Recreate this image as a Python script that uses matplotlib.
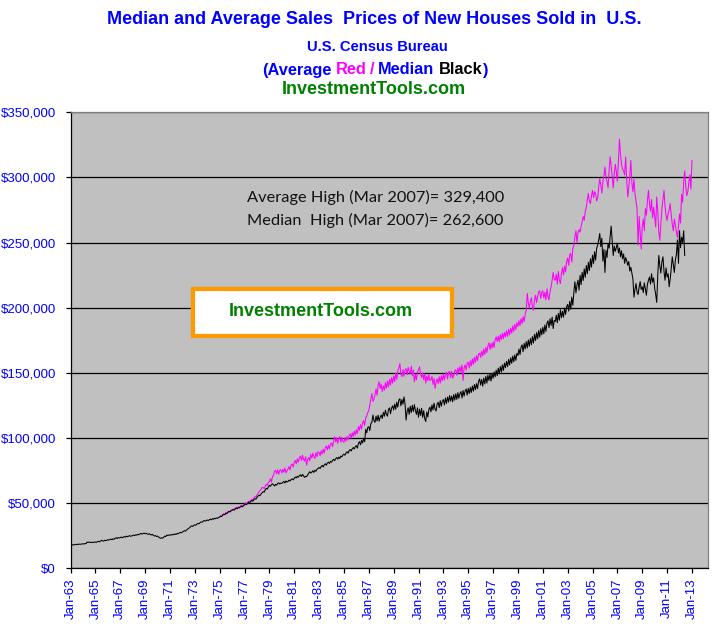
import matplotlib
matplotlib.use('Agg')
import matplotlib.pyplot as plt
from matplotlib.patches import Rectangle
from matplotlib.ticker import FuncFormatter, FixedLocator

# Median sales price, thousands of $, monthly, plotted from the Jan-63 slot
median_k = [
    17.3, 17.7, 17.9, 17.6, 18.0, 18.2, 17.9, 18.3, 18.1, 18.4, 18.2, 18.5,
    18.6, 18.4, 18.8, 18.7, 19.9, 19.6, 20.0, 19.7, 19.5, 19.9, 19.6, 19.8,
    20.0, 19.7, 20.2, 20.5, 20.1, 20.7, 21.3, 20.8, 20.6, 21.4, 21.0, 21.2,
    21.8, 21.4, 21.9, 22.3, 21.7, 22.5, 22.0, 22.8, 23.2, 22.6, 23.4, 23.0,
    23.3, 23.8, 23.2, 23.6, 24.2, 23.7, 24.5, 24.0, 24.4, 24.9, 24.3, 24.7,
    24.8, 25.3, 24.9, 25.6, 25.2, 25.9, 25.5, 26.2, 26.6, 26.0, 26.4, 26.8,
    26.3, 26.7, 26.1, 25.8, 26.4, 25.7, 25.3, 25.9, 25.0, 24.6, 24.9, 24.2,
    24.5, 23.8, 23.2, 22.7, 23.3, 22.9, 23.7, 24.5, 24.1, 25.3, 24.9, 25.4,
    25.1, 25.7, 25.3, 25.9, 25.5, 26.3, 25.8, 26.6, 26.2, 26.9, 27.4, 27.0,
    27.6, 28.1, 28.7, 28.3, 29.2, 29.8, 30.3, 31.0, 31.8, 32.4, 31.9, 32.7,
    33.2, 32.8, 33.7, 34.3, 33.9, 34.8, 35.4, 35.1, 35.9, 36.5, 36.0, 36.3,
    36.9, 36.4, 37.1, 37.5, 37.0, 37.9, 37.4, 38.2, 37.8, 38.5, 38.1, 38.8,
    39.1, 39.9, 39.5, 40.6, 41.3, 40.9, 42.1, 41.7, 42.8, 43.4, 43.0, 43.9,
    44.3, 44.9, 44.4, 45.3, 46.0, 45.5, 46.4, 46.1, 46.9, 47.5, 47.0, 47.8,
    48.4, 49.2, 48.7, 49.7, 50.5, 50.0, 51.1, 51.8, 51.3, 52.5, 53.2, 52.9,
    54.1, 55.3, 56.0, 55.5, 56.9, 57.8, 58.7, 58.2, 60.0, 61.1, 60.6, 62.2,
    63.5, 62.8, 64.0, 64.7, 63.9, 63.0, 64.3, 63.6, 64.9, 65.4, 64.5, 65.2,
    65.0, 65.8, 66.5, 65.3, 66.9, 66.0, 66.4, 67.5, 66.8, 68.0, 68.5, 67.7,
    68.8, 69.9, 69.2, 70.5, 69.7, 71.0, 71.6, 70.3, 71.9, 70.7, 69.6, 70.4,
    70.2, 71.5, 72.8, 74.0, 72.9, 73.6, 74.7, 73.4, 75.1, 74.3, 75.8, 76.5,
    77.2, 76.4, 77.9, 78.8, 77.6, 79.2, 80.1, 78.9, 80.6, 81.3, 80.2, 81.9,
    81.2, 82.6, 83.5, 82.4, 83.9, 84.8, 83.7, 85.2, 84.1, 86.0, 85.3, 86.8,
    87.5, 86.6, 88.4, 89.3, 88.1, 90.2, 91.0, 89.8, 91.6, 92.5, 91.4, 93.3,
    94.0, 92.1, 95.8, 97.0, 94.6, 98.0, 96.0, 99.2, 97.0, 106.5, 103.8, 107.9,
    108.5, 105.6, 111.0, 112.0, 117.5, 113.2, 111.8, 116.6, 112.9, 117.4, 112.8, 116.0,
    117.5, 114.8, 119.6, 116.5, 121.2, 118.0, 116.6, 121.8, 123.0, 118.5, 122.9, 124.6,
    121.4, 125.9, 122.0, 127.4, 123.6, 129.0, 130.0, 124.6, 129.4, 125.8, 131.4, 126.2,
    113.6, 120.2, 123.0, 118.0, 124.2, 119.4, 125.0, 120.2, 125.5, 121.0, 118.0, 123.0,
    115.8, 122.0, 117.2, 122.6, 115.7, 120.8, 114.6, 112.5, 119.8, 116.0, 121.8, 123.6,
    120.0, 125.3, 121.4, 126.6, 122.0, 120.6, 126.0, 127.3, 123.2, 128.5, 124.2, 128.0,
    129.4, 125.2, 130.6, 126.4, 131.3, 127.4, 132.5, 128.2, 132.0, 127.6, 133.2, 129.0,
    133.8, 129.5, 134.7, 130.4, 134.0, 135.5, 130.6, 136.3, 132.0, 135.9, 137.5, 132.8,
    137.9, 134.0, 138.7, 134.8, 139.8, 135.8, 140.9, 137.0, 141.6, 137.8, 143.4, 145.3,
    140.5, 144.8, 139.6, 145.9, 141.4, 147.2, 142.0, 148.1, 144.0, 148.8, 143.6, 149.5,
    145.7, 150.6, 146.8, 151.9, 147.7, 153.5, 149.1, 154.8, 150.5, 156.0, 151.7, 157.4,
    153.9, 158.7, 154.7, 160.2, 156.0, 161.5, 157.3, 162.8, 158.4, 163.7, 159.5, 164.9,
    163.2, 168.2, 163.9, 169.6, 171.4, 166.1, 172.5, 168.2, 173.9, 169.0, 175.1, 170.3,
    176.3, 171.5, 177.7, 172.8, 179.5, 174.7, 180.8, 176.0, 182.3, 177.3, 183.8, 179.1,
    184.9, 179.9, 186.7, 181.7, 188.1, 189.8, 184.6, 191.4, 186.3, 192.7, 183.9, 190.2,
    189.2, 194.1, 188.4, 195.5, 190.3, 198.3, 192.2, 197.1, 192.7, 199.6, 194.8, 200.7,
    202.5, 197.3, 204.8, 198.7, 208.1, 201.8, 211.7, 219.8, 211.3, 217.5, 221.1, 213.4,
    224.8, 217.7, 227.1, 220.8, 229.7, 223.3, 232.3, 226.0, 234.8, 228.5, 237.5, 231.1,
    240.3, 233.9, 242.9, 236.5, 245.6, 247.9, 252.1, 256.9, 246.9, 253.3, 235.7, 244.8,
    227.0, 244.0, 238.5, 249.0, 245.6, 254.0, 262.6, 251.4, 240.0, 247.3, 243.2, 246.0,
    249.5, 242.0, 245.8, 239.0, 243.6, 237.5, 241.2, 234.0, 238.4, 236.0, 232.5, 235.4,
    228.0, 231.0, 226.5, 222.0, 208.0, 214.0, 218.5, 212.0, 210.0, 215.5, 220.0, 214.0,
    216.0, 211.5, 219.0, 214.2, 209.5, 217.8, 221.0, 223.5, 218.0, 226.0, 219.5, 222.8,
    215.0, 210.0, 204.0, 225.0, 240.0, 232.0, 226.5, 235.0, 239.0, 228.0, 221.0, 230.5,
    223.5, 226.0, 216.0, 222.0, 230.0, 239.0, 233.0, 227.0, 236.5, 241.0, 252.0, 234.0,
    259.0, 246.0, 254.0, 250.0, 259.0, 240.0,
]

# Average sales price, thousands of $, monthly from Jan-75 to Jan-13
average_k = [
    39.4, 40.1, 39.8, 41.0, 41.6, 41.2, 42.5, 42.0, 43.2, 43.8, 43.3, 44.3,
    44.6, 45.3, 44.8, 45.8, 46.5, 46.0, 47.0, 46.6, 47.4, 48.1, 47.5, 48.5,
    49.0, 49.8, 49.3, 50.6, 51.3, 50.8, 52.0, 52.8, 52.3, 53.9, 54.8, 54.4,
    56.0, 57.2, 58.3, 59.6, 60.4, 61.9, 61.8, 60.9, 62.8, 64.3, 63.5, 65.6,
    66.4, 68.5, 66.0, 70.2, 71.0, 74.5, 75.0, 72.4, 75.4, 72.0, 74.9, 75.5,
    73.0, 75.8, 73.6, 76.8, 73.2, 74.6, 75.9, 77.9, 75.4, 79.2, 79.9, 77.5,
    80.9, 82.6, 80.0, 83.9, 81.3, 84.8, 85.9, 82.5, 86.5, 83.4, 82.0, 85.4,
    79.0, 83.3, 84.9, 82.3, 87.4, 84.4, 88.2, 85.3, 84.1, 88.6, 85.6, 89.3,
    88.7, 86.2, 90.1, 87.5, 91.2, 88.4, 92.5, 93.7, 90.7, 94.3, 91.5, 95.2,
    96.0, 93.1, 97.4, 100.8, 96.8, 99.9, 95.7, 99.6, 100.9, 96.6, 100.3, 97.3,
    96.5, 100.2, 97.4, 101.1, 98.3, 101.5, 103.0, 99.8, 103.8, 100.9, 105.1, 102.1,
    106.2, 103.3, 108.7, 105.8, 110.1, 106.9, 111.5, 113.2, 109.5, 115.3, 117.0, 119.4,
    121.0, 125.2, 129.0, 134.0, 127.9, 129.7, 133.2, 137.5, 132.7, 140.3, 143.0, 137.8,
    141.2, 135.5, 139.9, 136.6, 142.3, 138.0, 143.5, 139.1, 145.0, 140.6, 146.2, 142.0,
    147.5, 143.2, 149.8, 144.9, 151.3, 153.6, 157.0, 148.8, 147.0, 152.5, 147.3, 151.9,
    153.2, 148.5, 154.0, 151.0, 149.4, 155.0, 147.6, 152.2, 143.0, 148.8, 144.5, 150.6,
    152.0, 154.5, 149.2, 146.3, 150.0, 144.6, 149.2, 142.0, 147.5, 143.8, 148.6, 144.0,
    144.5, 147.2, 141.0, 145.7, 138.0, 142.8, 145.3, 141.6, 146.9, 142.1, 147.7, 143.8,
    149.0, 144.4, 148.6, 150.5, 145.1, 149.8, 151.2, 146.3, 150.9, 145.8, 148.0, 151.6,
    152.3, 148.0, 153.6, 149.8, 154.7, 150.5, 156.0, 144.0, 153.8, 156.1, 152.0, 157.4,
    158.0, 153.5, 159.3, 155.2, 160.6, 156.4, 161.8, 157.9, 163.1, 159.3, 164.5, 165.0,
    161.8, 166.6, 162.9, 168.2, 164.0, 169.4, 165.5, 170.7, 173.0, 167.8, 172.5, 168.9,
    173.6, 169.4, 175.3, 177.5, 174.0, 178.0, 173.8, 179.2, 175.4, 180.3, 176.1, 181.0,
    177.5, 182.2, 178.0, 183.4, 179.0, 184.3, 180.5, 186.0, 181.8, 187.1, 183.2, 188.5,
    185.4, 190.0, 186.2, 191.5, 187.8, 193.0, 189.2, 195.1, 198.0, 211.0, 203.5, 199.8,
    205.0, 207.5, 200.0, 198.0, 206.0, 209.5, 203.8, 208.3, 212.0, 213.0, 207.0, 211.6,
    213.0, 207.5, 211.8, 206.0, 214.5, 208.4, 206.0, 212.2, 216.0, 221.0, 227.0, 221.5,
    221.0, 225.5, 218.0, 227.8, 221.0, 218.5, 226.0, 230.6, 225.2, 232.0, 227.4, 235.5,
    238.0, 232.5, 240.8, 241.5, 235.0, 245.5, 248.0, 254.5, 259.0, 250.0, 257.5, 260.0,
    258.0, 262.5, 266.0, 270.0, 267.0, 274.0, 277.0, 283.0, 287.6, 281.5, 280.0, 286.0,
    290.0, 284.5, 289.0, 287.6, 282.0, 284.0, 292.6, 299.0, 294.0, 288.0, 296.5, 301.0,
    308.0, 300.0, 297.0, 292.0, 305.0, 315.7, 309.0, 300.5, 292.0, 303.0, 310.0, 304.5,
    297.0, 312.0, 329.4, 318.0, 310.0, 306.5, 305.0, 302.0, 315.7, 298.0, 285.0, 292.5,
    301.0, 313.0, 296.0, 289.0, 298.5, 287.6, 282.0, 276.0, 248.0, 270.0, 258.0, 245.0,
    262.0, 268.0, 259.0, 276.0, 271.0, 282.0, 290.0, 280.0, 274.0, 283.0, 269.0, 277.0,
    270.0, 262.0, 285.0, 274.0, 258.0, 251.7, 265.0, 276.0, 283.0, 290.0, 278.0, 271.0,
    267.0, 272.0, 275.0, 280.0, 271.0, 264.0, 259.0, 268.0, 263.0, 258.0, 254.0, 262.0,
    272.0, 265.0, 287.0, 281.0, 296.0, 305.0, 293.0, 286.0, 289.0, 296.0, 302.0, 291.0,
    313.0,
]

median_start = 0      # month slot of first median value (Jan-63)
average_start = 144   # month slot of first average value (Jan-75)
tick_labels = ['Jan-%02d' % (y % 100) for y in range(1963, 2014, 2)]
y_ticks = [0, 50000, 100000, 150000, 200000, 250000, 300000, 350000]

W, H = 722, 632
BLUE = '#0000FF'
FONT = 'Liberation Sans'

fig = plt.figure(figsize=(W / 100, H / 100), dpi=100)
fig.patch.set_facecolor('white')
ax = fig.add_axes([70.5 / W, 1 - 568 / H, (708 - 70.5) / W, (568 - 112.3) / H])
ax.set_facecolor('#C0C0C0')

x_med = [median_start + i for i in range(len(median_k))]
x_avg = [average_start + i for i in range(len(average_k))]
ax.plot(x_avg, [v * 1000 for v in average_k], color='#FF00FF', lw=0.75, zorder=3)
ax.plot(x_med, [v * 1000 for v in median_k], color='black', lw=0.75, zorder=4)

ax.set_xlim(0, 615.5)
ax.set_ylim(0, 350000)
ax.yaxis.set_major_locator(FixedLocator(y_ticks))
ax.yaxis.set_major_formatter(FuncFormatter(lambda v, p: '${:,.0f}'.format(v)))
ax.set_xticks([i * 24 for i in range(len(tick_labels))])
ax.set_xticklabels(tick_labels, rotation=90)
ax.grid(axis='y', color='black', lw=0.9, zorder=1)
ax.set_axisbelow(True)

for lab in ax.get_xticklabels() + ax.get_yticklabels():
    lab.set_family(FONT)
    lab.set_fontsize(9.5)
    lab.set_color(BLUE)
ax.tick_params(axis='both', direction='out', length=3.5, width=0.9, color='black')
ax.tick_params(axis='y', pad=7)
ax.tick_params(axis='x', pad=4)
ax.spines['left'].set_color('black')
ax.spines['bottom'].set_color('black')
ax.spines['top'].set_color('#808080')
ax.spines['right'].set_color('#808080')
for s in ax.spines.values():
    s.set_linewidth(0.9)

# Annotations inside the plot
ax.text(246.7 / W, 1 - 197 / H, 'Average High (Mar 2007)= 329,400', transform=fig.transFigure,
        fontsize=11.8, family='Lato', color='#111111', va='center', ha='left')
ax.text(246.7 / W, 1 - 220 / H, 'Median  High (Mar 2007)= 262,600', transform=fig.transFigure,
        fontsize=11.8, family='Lato', color='#111111', va='center', ha='left')

box = Rectangle((193 / W, 1 - 335.5 / H), (452 - 193) / W, (335.5 - 289) / H,
                transform=fig.transFigure, facecolor='white', edgecolor='#FF9900', lw=3, zorder=5)
fig.patches.append(box)
fig.text(321 / W, 1 - 312 / H, 'InvestmentTools.com', color='#008000', fontsize=13,
         fontweight='bold', family=FONT, ha='center', va='center', zorder=6)

# Header
fig.text(374 / W, 1 - 19 / H, 'Median and Average Sales  Prices of New Houses Sold in  U.S.',
         color=BLUE, fontsize=13, fontweight='bold', family=FONT, ha='center', va='center')
fig.text(377 / W, 1 - 47 / H, 'U.S. Census Bureau', color=BLUE, fontsize=10.6,
         fontweight='bold', family=FONT, ha='center', va='center')
fig.text(374 / W, 1 - 90 / H, 'InvestmentTools.com', color='#008000', fontsize=13,
         fontweight='bold', family=FONT, ha='center', va='center')

# Multi-coloured legend line
parts = [('(Average', BLUE, 4), ('Red', '#FF00FF', 3), ('/', '#FF00FF', 4), ('Median', BLUE, 5),
         ('Black', 'black', -1), (')', BLUE, 0)]
renderer = fig.canvas.get_renderer()
pieces = []
for s, c, gap in parts:
    t = fig.text(0, 1 - 70 / H, s, color=c, fontsize=11.8, fontweight='bold', family=FONT,
                 ha='left', va='center')
    pieces.append((t, t.get_window_extent(renderer).width, gap))
total = sum(w + g for _, w, g in pieces)
x = 375 - total / 2
for t, w, g in pieces:
    t.set_x(x / W)
    x += w + g

fig.savefig('out.png', dpi=100, facecolor='white')
